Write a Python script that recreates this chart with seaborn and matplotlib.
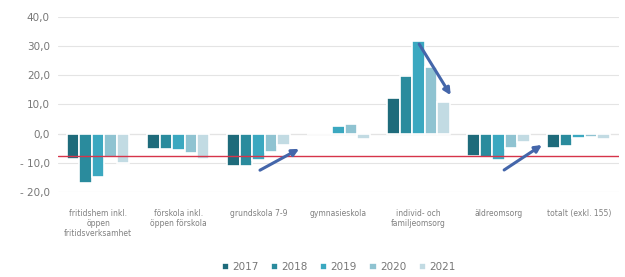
import matplotlib
matplotlib.use("Agg")
import matplotlib.pyplot as plt
import seaborn as sns
import pandas as pd
from matplotlib.ticker import FuncFormatter

categories = ["fritidshem inkl.\nöppen\nfritidsverksamhet", "förskola inkl.\nöppen förskola",
              "grundskola 7-9", "gymnasieskola", "individ- och\nfamiljeomsorg",
              "äldreomsorg", "totalt (exkl. 155)"]
years = ["2017", "2018", "2019", "2020", "2021"]
v2017 = [-8.8, -5.2, -11.2, -0.3, 12.3, -7.8, -4.8]
v2018 = [-16.8, -5.2, -11.2, -0.2, 19.8, -7.9, -4.3]
v2019 = [-15.0, -5.5, -8.9, 2.7, 31.8, -8.9, -1.5]
v2020 = [-8.0, -6.8, -6.2, 3.3, 22.9, -5.0, -1.1]
v2021 = [-10.0, -8.8, -3.8, -2.0, 10.9, -3.0, -2.0]
ref_line = -7.8
colors = ["#1e6b7b", "#2a8b9d", "#3ba8c0", "#8fc3d1", "#c2dbe3"]

rows = []
for y, vals in zip(years, [v2017, v2018, v2019, v2020, v2021]):
    for c, v in zip(categories, vals):
        rows.append({"cat": c, "year": y, "value": v})
df = pd.DataFrame(rows)

sns.set_theme(style="white")
plt.rcParams['font.family'] = ['DejaVu Sans']
fig = plt.figure(figsize=(6.25, 2.77), dpi=100)
ax = fig.add_axes([0.093, 0.307, 0.897, 0.633])
sns.barplot(data=df, x="cat", y="value", hue="year", palette=colors, width=0.78,
            ax=ax, saturation=1, legend=True, edgecolor="white", linewidth=1.2)
ax.set_ylim(-20, 40)
ax.set_yticks([-20, -10, 0, 10, 20, 30, 40])
ax.yaxis.set_major_formatter(FuncFormatter(lambda v, p: f"{v:.1f}".replace(".", ",").replace("-", "- ")))
ax.grid(axis="y", color="#e4e4e4", linewidth=0.8)
ax.set_axisbelow(True)
for s in ax.spines.values():
    s.set_visible(False)
ax.axhline(0, color="#d9d9d9", linewidth=0.8, zorder=0)
ax.axhline(ref_line, color="#d6344a", linewidth=1.0, zorder=3)
ax.set_xlabel("")
ax.set_ylabel("")
ax.tick_params(axis="y", labelsize=7.5, colors="#777777", length=0, pad=6)
ax.tick_params(axis="x", labelsize=5.5, colors="#808080", length=0, pad=12)
ax.set_xlim(-0.5, 6.5)

arrow_kw = dict(arrowstyle="-|>", color="#4466aa", lw=2.2, mutation_scale=10)
ax.annotate("", xy=(2.54, -4.8), xytext=(1.99, -13.0), arrowprops=arrow_kw, annotation_clip=False)
ax.annotate("", xy=(4.42, 12.3), xytext=(3.99, 31.4), arrowprops=arrow_kw, annotation_clip=False)
ax.annotate("", xy=(5.57, -3.4), xytext=(5.04, -13.0), arrowprops=arrow_kw, annotation_clip=False)

handles, labels = ax.get_legend_handles_labels()
ax.legend(handles, labels, loc="upper center", bbox_to_anchor=(0.5, -0.345), ncol=5,
          frameon=False, fontsize=7.5, handlelength=0.7, handleheight=0.7,
          columnspacing=1.2, handletextpad=0.3, labelcolor="#777777")
fig.savefig("out.png", dpi=100)
